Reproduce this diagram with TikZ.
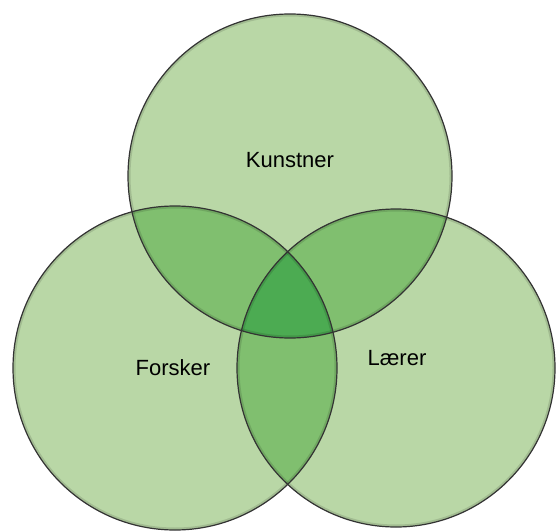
\documentclass[tikz,border=0pt]{standalone}
\usepackage{fontspec}
\setmainfont{Liberation Sans}
\definecolor{vennlight}{HTML}{B9D7A6}
\definecolor{venntwo}{HTML}{80BF6F}
\definecolor{vennthree}{HTML}{4CAB52}
\definecolor{vennline}{HTML}{333333}
\begin{document}
\begin{tikzpicture}[
  x=1pt,y=1pt,
  ring/.style={draw=vennline, line width=1.2pt},
  innershade/.style={draw=black, line width=5pt, opacity=0.12},
  setname/.style={font=\fontsize{22}{26}\selectfont, text=black, inner sep=0pt}
]
\useasboundingbox (0,0) rectangle (556,531);
\def\kunst{(290,355) circle (162)}
\def\forsk{(175,163) circle (162)}
\def\laer{(396,163) circle (159)}

% base fill
\fill[vennlight] \kunst;
\fill[vennlight] \forsk;
\fill[vennlight] \laer;

% pairwise overlaps
\begin{scope}
  \clip \kunst;
  \fill[venntwo] \forsk;
  \fill[venntwo] \laer;
\end{scope}
\begin{scope}
  \clip \forsk;
  \fill[venntwo] \laer;
\end{scope}

% centre
\begin{scope}
  \clip \kunst;
  \clip \forsk;
  \fill[vennthree] \laer;
\end{scope}

% soft edge inside each ring
\begin{scope}
  \clip \kunst;
  \draw[innershade] \kunst;
\end{scope}
\begin{scope}
  \clip \forsk;
  \draw[innershade] \forsk;
\end{scope}
\begin{scope}
  \clip \laer;
  \draw[innershade] \laer;
\end{scope}

% outlines
\draw[ring] \forsk;
\draw[ring] \laer;
\draw[ring] \kunst;

\node[setname] (kunstner) at (290,371) {Kunstner};
\node[setname] (forsker) at (173,163) {Forsker};
\node[setname] (laerer) at (397,173) {Lærer};
\end{tikzpicture}
\end{document}
